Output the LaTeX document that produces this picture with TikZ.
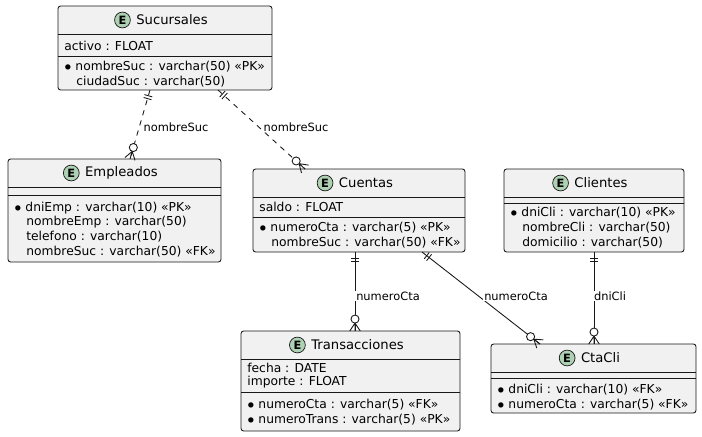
\documentclass[tikz,border=0pt]{standalone}
\usepackage{fontspec}
\setmainfont{DejaVu Sans}
\usetikzlibrary{calc,positioning}
\definecolor{boxfill}{HTML}{F1F1F1}
\definecolor{boxline}{HTML}{181818}
\definecolor{egreen}{HTML}{ADD1B2}
\tikzset{ent/.style={draw=boxline,fill=boxfill,rounded corners=1.5pt,line width=0.5pt}}
\tikzset{row/.style={anchor=west,inner sep=0pt,font=\fontsize{7}{8}\selectfont}}
\tikzset{ttl/.style={inner sep=0pt,font=\fontsize{7.5}{9}\selectfont}}
\tikzset{emark/.style={draw=boxline,fill=egreen,circle,minimum size=9pt,inner sep=0pt,font=\fontsize{6.5}{7}\bfseries\selectfont}}
\tikzset{lk/.style={draw=boxline,line width=0.5pt}}
\tikzset{lbl/.style={fill=white,inner sep=0.5pt,font=\fontsize{6.5}{8}\selectfont}}

% entity: name, x1, y1, x2, y2, title, header bottom
\newcommand{\entity}[7]{
  \draw[ent] (#2,#3) rectangle (#4,#5);
  \draw[boxline,line width=0.4pt] (#2,#7) -- (#4,#7);
  \node[ttl] (#1) at ({(#2+#4)/2+7},{(#3+#7)/2}) {#6};
  \node[emark,left=3pt of #1] (#1e) {E};
}
% link: from, to, label pos, label, dashed?
\newcommand{\erlink}[5]{
  \draw[lk,#5] (#1) -- (#2);
  \draw[lk] ($(#1)!3.4pt!(#2)$) coordinate (q1) ($(q1)!2.3pt!90:(#2)$) -- ($(q1)!2.3pt!-90:(#2)$);
  \draw[lk] ($(#1)!5.1pt!(#2)$) coordinate (q2) ($(q2)!2.3pt!90:(#2)$) -- ($(q2)!2.3pt!-90:(#2)$);
  \draw[lk] ($(#2)!4.5pt!(#1)$) coordinate (q3) -- ($(#2)!3pt!90:(#1)$)
            (q3) -- (#2) (q3) -- ($(#2)!3pt!-90:(#1)$);
  \draw[lk,fill=white] ($(#2)!6.8pt!(#1)$) circle (2.3pt);
  \node[lbl] at (#3) {#4};
}

\begin{document}
\begin{tikzpicture}[x=0.02cm,y=-0.02cm]
\useasboundingbox (0,0) rectangle (702,436);
% entities
\entity{suc}{58}{6}{272}{90}{Sucursales}{34}
\draw[boxline,line width=0.4pt] (58,56) -- (272,56);
\node[row] (suc1) at (64,46) {activo : FLOAT};
\node[row] (suc2) at (64,67) {$\bullet$ nombreSuc : varchar(50) «PK»};
\node[row] (suc3) at (76,82) {ciudadSuc : varchar(50)};

\entity{emp}{8}{159}{221}{262}{Empleados}{187}
\draw[boxline,line width=0.4pt] (8,195) -- (221,195);
\node[row] (emp1) at (14,208) {$\bullet$ dniEmp : varchar(10) «PK»};
\node[row] (emp2) at (26,222) {nombreEmp : varchar(50)};
\node[row] (emp3) at (26,237) {telefono : varchar(10)};
\node[row] (emp4) at (26,252) {nombreSuc : varchar(50) «FK»};

\entity{cta}{253}{169}{465}{252}{Cuentas}{197}
\draw[boxline,line width=0.4pt] (253,217) -- (465,217);
\node[row] (cta1) at (259,207) {saldo : FLOAT};
\node[row] (cta2) at (259,228) {$\bullet$ numeroCta : varchar(5) «PK»};
\node[row] (cta3) at (271,243) {nombreSuc : varchar(50) «FK»};

\entity{cli}{504}{169}{684}{252}{Clientes}{197}
\draw[boxline,line width=0.4pt] (504,203) -- (684,203);
\node[row] (cli1) at (510,213) {$\bullet$ dniCli : varchar(10) «PK»};
\node[row] (cli2) at (522,228) {nombreCli : varchar(50)};
\node[row] (cli3) at (522,243) {domicilio : varchar(50)};

\entity{tra}{241}{331}{460}{431}{Transacciones}{359}
\draw[boxline,line width=0.4pt] (241,392) -- (460,392);
\node[row] (tra1) at (247,368) {fecha : DATE};
\node[row] (tra2) at (247,382) {importe : FLOAT};
\node[row] (tra3) at (247,405) {$\bullet$ numeroCta : varchar(5) «FK»};
\node[row] (tra4) at (247,420) {$\bullet$ numeroTrans : varchar(5) «PK»};

\entity{cc}{491}{344}{696}{413}{CtaCli}{372}
\draw[boxline,line width=0.4pt] (491,378) -- (696,378);
\node[row] (cc1) at (497,390) {$\bullet$ dniCli : varchar(10) «FK»};
\node[row] (cc2) at (497,405) {$\bullet$ numeroCta : varchar(5) «FK»};

% connectors
\coordinate (s1) at (150,90);  \coordinate (e1) at (130,159);
\coordinate (s2) at (218,90);  \coordinate (c1) at (305,169);
\coordinate (c2) at (355,252); \coordinate (t1) at (355,331);
\coordinate (c3) at (422,252); \coordinate (k1) at (540,344);
\coordinate (l1) at (594,252); \coordinate (k2) at (594,344);
\erlink{s1}{e1}{176,127}{nombreSuc}{dashed}
\erlink{s2}{c1}{296,127}{nombreSuc}{dashed}
\erlink{c2}{t1}{388,296}{numeroCta}{}
\erlink{c3}{k1}{516,296}{numeroCta}{}
\erlink{l1}{k2}{610,296}{dniCli}{}
\end{tikzpicture}
\end{document}
